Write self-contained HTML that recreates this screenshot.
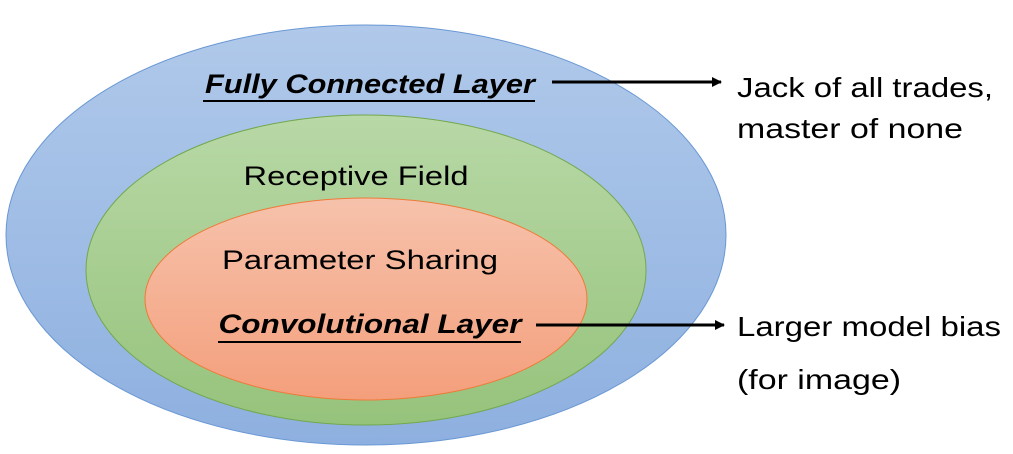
<!DOCTYPE html>
<html><head><meta charset="utf-8"><style>
body{margin:0;background:#fff;}
svg{display:block;}
text{font-family:"Liberation Sans",sans-serif;fill:#000;}
</style></head><body>
<svg width="1013" height="454" viewBox="0 0 1013 454" xmlns="http://www.w3.org/2000/svg">
<defs>
<linearGradient id="gb" x1="0" y1="0" x2="0" y2="1"><stop offset="0" stop-color="#b0c9ea"/><stop offset="1" stop-color="#8eb0e0"/></linearGradient>
<linearGradient id="gg" x1="0" y1="0" x2="0" y2="1"><stop offset="0" stop-color="#b8d8a6"/><stop offset="1" stop-color="#96c37c"/></linearGradient>
<linearGradient id="go" x1="0" y1="0" x2="0" y2="1"><stop offset="0" stop-color="#f6c2ab"/><stop offset="1" stop-color="#f49f7c"/></linearGradient>
<marker id="ah" markerWidth="10" markerHeight="10" refX="9" refY="5" orient="auto" markerUnits="userSpaceOnUse"><path d="M0,0 L10,5 L0,10 z" fill="#000"/></marker>
</defs>
<ellipse cx="366" cy="235" rx="360" ry="210" fill="url(#gb)" stroke="#6a98d4" stroke-width="1"/>
<ellipse cx="366" cy="270" rx="280" ry="155" fill="url(#gg)" stroke="#72a84e" stroke-width="1"/>
<ellipse cx="366" cy="299" rx="221" ry="101" fill="url(#go)" stroke="#ee7a3a" stroke-width="1"/>
<text x="370" y="93" font-size="27" font-weight="bold" font-style="italic" text-anchor="middle" textLength="330" lengthAdjust="spacingAndGlyphs">Fully Connected Layer</text>
<line x1="203" y1="101" x2="535" y2="101" stroke="#000" stroke-width="2"/>
<text x="356" y="185" font-size="27" text-anchor="middle" textLength="225" lengthAdjust="spacingAndGlyphs">Receptive Field</text>
<text x="360" y="269" font-size="27" text-anchor="middle" textLength="276" lengthAdjust="spacingAndGlyphs">Parameter Sharing</text>
<text x="370" y="333" font-size="27" font-weight="bold" font-style="italic" text-anchor="middle" textLength="303" lengthAdjust="spacingAndGlyphs">Convolutional Layer</text>
<line x1="218" y1="342" x2="521" y2="342" stroke="#000" stroke-width="2"/>
<line x1="552" y1="82" x2="721" y2="82" stroke="#000" stroke-width="3" marker-end="url(#ah)"/>
<line x1="536" y1="325" x2="724" y2="325" stroke="#000" stroke-width="3" marker-end="url(#ah)"/>
<text x="737" y="97" font-size="28" textLength="256" lengthAdjust="spacingAndGlyphs">Jack of all trades,</text>
<text x="737" y="138" font-size="28" textLength="226" lengthAdjust="spacingAndGlyphs">master of none</text>
<text x="737" y="336" font-size="28" textLength="264" lengthAdjust="spacingAndGlyphs">Larger model bias</text>
<text x="737" y="389" font-size="28" textLength="164" lengthAdjust="spacingAndGlyphs">(for image)</text>
</svg>
</body></html>
